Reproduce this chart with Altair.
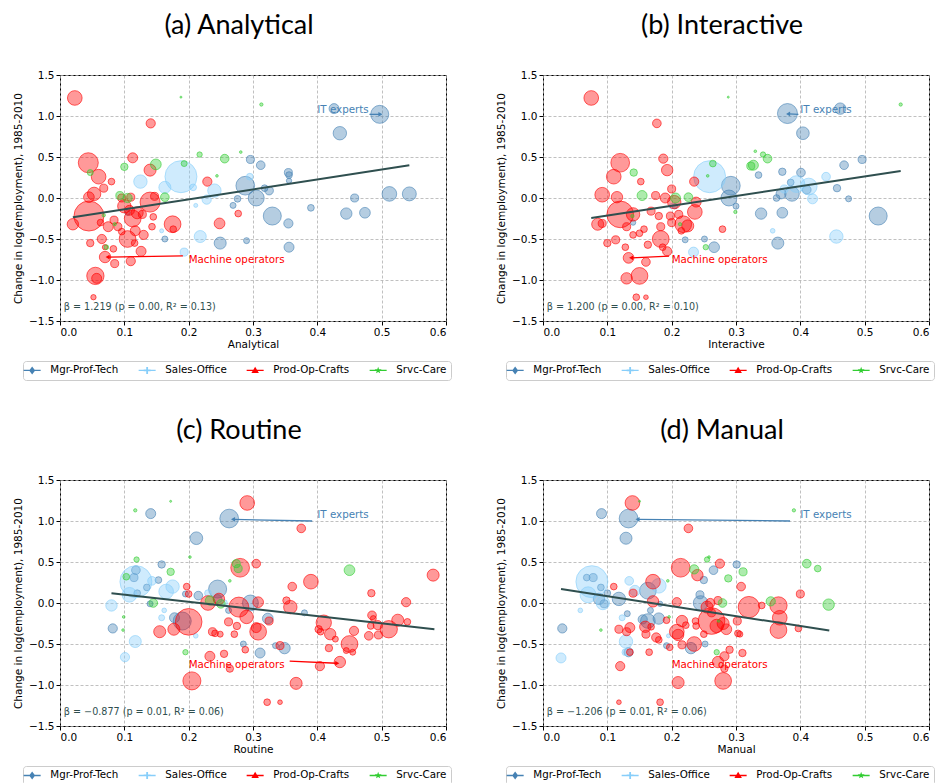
import math
import altair as alt
import pandas as pd

GROUPS = ["Mgr-Prof-Tech", "Sales-Office", "Prod-Op-Crafts", "Srvc-Care"]
COLORS = ["#4682b4", "#87cefa", "#ff0000", "#32cd32"]
FIT_COLOR = "#2f4f4f"
X_TICKS = [0.0, 0.1, 0.2, 0.3, 0.4, 0.5, 0.6]
Y_TICKS = [-1.5, -1.0, -0.5, 0.0, 0.5, 1.0, 1.5]
Y_TITLE = "Change in log(employment), 1985-2010"

# ---- (a) Analytical: (x, change in log employment, employment share %) ----
A_MGR = [(0.426, 1.09, 0.20), (0.497, 1.02, 0.65), (0.435, 0.79, 0.36), (0.296, 0.47, 0.13),
         (0.312, 0.40, 0.15), (0.355, 0.31, 0.13), (0.356, 0.28, 0.09), (0.356, 0.21, 0.057),
         (0.288, 0.15, 0.70), (0.305, 0.00, 0.51), (0.318, 0.12, 0.09), (0.325, 0.09, 0.15),
         (0.330, -0.22, 0.65), (0.276, -0.01, 0.09), (0.269, -0.09, 0.072), (0.355, -0.31, 0.17),
         (0.356, -0.60, 0.20), (0.249, -0.55, 0.29), (0.290, -0.52, 0.072), (0.163, -0.50, 0.072),
         (0.390, -0.12, 0.09), (0.445, -0.19, 0.26), (0.458, 0.00, 0.13), (0.474, -0.18, 0.23),
         (0.512, 0.05, 0.43), (0.543, 0.05, 0.39), (0.105, -0.18, 0.057)]
A_SALES = [(0.188, 0.26, 2.05), (0.125, 0.20, 0.36), (0.163, 0.13, 0.29), (0.240, 0.09, 0.36),
           (0.228, -0.02, 0.17), (0.218, -0.47, 0.29), (0.193, -0.66, 0.13), (0.211, -0.09, 0.032),
           (0.158, -0.40, 0.032), (0.207, 0.13, 0.09), (0.295, 0.26, 0.09)]
A_PROD = [(0.023, 1.22, 0.43), (0.141, 0.91, 0.17), (0.044, 0.43, 0.80), (0.060, 0.26, 0.43),
          (0.113, 0.49, 0.20), (0.140, 0.34, 0.29), (0.080, 0.20, 0.09), (0.068, 0.12, 0.13),
          (0.053, 0.05, 0.36), (0.045, 0.01, 0.23), (0.045, -0.22, 1.80), (0.020, -0.32, 0.26),
          (0.047, -0.55, 0.11), (0.065, -0.50, 0.17), (0.070, -0.72, 0.26), (0.085, -0.80, 0.13),
          (0.110, -0.77, 0.17), (0.126, -0.65, 0.20), (0.055, -0.95, 0.60), (0.057, -0.98, 0.20),
          (0.052, -1.21, 0.057), (0.105, -0.50, 0.56), (0.113, -0.25, 0.56), (0.117, -0.40, 0.20),
          (0.140, -0.05, 0.80), (0.147, 0.02, 0.13), (0.145, -0.23, 0.09), (0.143, -0.35, 0.09),
          (0.175, -0.32, 0.56), (0.176, -0.38, 0.09), (0.248, -0.31, 0.23), (0.229, 0.20, 0.17),
          (0.277, -0.19, 0.09), (0.090, -0.35, 0.13), (0.084, -0.27, 0.13), (0.096, -0.41, 0.09),
          (0.100, -0.10, 0.36), (0.075, -0.35, 0.20), (0.083, -0.62, 0.09), (0.096, 0.00, 0.13),
          (0.110, 0.01, 0.13), (0.120, -0.18, 0.29), (0.130, -0.45, 0.17), (0.063, -0.30, 0.09),
          (0.070, -0.60, 0.057), (0.108, -0.15, 0.20), (0.128, -0.20, 0.13), (0.116, -0.55, 0.09)]
A_SRVC = [(0.188, 1.23, 0.008), (0.313, 1.14, 0.022), (0.217, 0.53, 0.057), (0.281, 0.56, 0.014),
          (0.256, 0.48, 0.15), (0.193, 0.42, 0.072), (0.149, 0.41, 0.23), (0.100, 0.38, 0.11),
          (0.047, 0.31, 0.072), (0.244, 0.27, 0.014), (0.093, 0.03, 0.13), (0.105, 0.00, 0.17),
          (0.163, 0.01, 0.15), (0.068, -0.21, 0.022), (0.085, -0.32, 0.022), (0.072, -0.60, 0.044)]

# ---- (b) Interactive ----
B_MGR = [(0.380, 1.03, 0.80), (0.462, 1.09, 0.26), (0.404, 0.79, 0.32), (0.496, 0.47, 0.13),
         (0.468, 0.40, 0.15), (0.401, 0.31, 0.15), (0.372, 0.32, 0.11), (0.335, 0.28, 0.09),
         (0.292, 0.15, 0.70), (0.289, 0.00, 0.51), (0.300, -0.10, 0.072), (0.339, -0.19, 0.26),
         (0.372, -0.18, 0.23), (0.521, -0.22, 0.65), (0.365, -0.55, 0.29), (0.266, -0.60, 0.23),
         (0.251, -0.50, 0.072), (0.221, -0.51, 0.072), (0.457, 0.12, 0.11), (0.475, -0.01, 0.072),
         (0.387, 0.05, 0.43), (0.370, 0.05, 0.20), (0.385, 0.19, 0.09), (0.410, 0.10, 0.15),
         (0.363, 0.00, 0.09), (0.205, -0.10, 0.057), (0.140, -0.30, 0.057)]
B_SALES = [(0.259, 0.26, 2.05), (0.394, 0.17, 0.56), (0.413, 0.14, 0.56), (0.440, 0.26, 0.15),
           (0.419, -0.01, 0.20), (0.456, -0.47, 0.36), (0.234, -0.66, 0.20), (0.357, -0.40, 0.044),
           (0.375, 0.11, 0.13), (0.200, -0.10, 0.057)]
B_PROD = [(0.075, 1.22, 0.43), (0.177, 0.91, 0.15), (0.187, 0.48, 0.17), (0.193, 0.34, 0.26),
          (0.120, 0.43, 0.70), (0.110, 0.26, 0.43), (0.092, 0.04, 0.43), (0.115, 0.01, 0.26),
          (0.120, -0.20, 1.42), (0.085, -0.32, 0.29), (0.092, -0.31, 0.13), (0.100, -0.55, 0.11),
          (0.113, -0.51, 0.13), (0.128, -0.60, 0.09), (0.133, -0.73, 0.23), (0.130, -0.98, 0.26),
          (0.150, -0.95, 0.56), (0.145, -1.21, 0.09), (0.160, -1.21, 0.044), (0.160, -0.78, 0.15),
          (0.163, -0.57, 0.11), (0.152, 0.20, 0.09), (0.140, -0.20, 0.36), (0.150, -0.43, 0.09),
          (0.157, -0.38, 0.09), (0.168, -0.16, 0.13), (0.175, 0.03, 0.13), (0.180, -0.22, 0.11),
          (0.183, -0.35, 0.13), (0.183, -0.50, 0.56), (0.186, -0.60, 0.09), (0.193, -0.65, 0.17),
          (0.190, 0.00, 0.20), (0.198, -0.22, 0.13), (0.200, 0.11, 0.13), (0.204, -0.05, 0.36),
          (0.211, -0.20, 0.13), (0.218, -0.32, 0.56), (0.225, -0.34, 0.29), (0.236, -0.17, 0.43),
          (0.238, -0.05, 0.20), (0.235, 0.20, 0.17), (0.279, -0.38, 0.09), (0.200, -0.30, 0.13),
          (0.215, -0.40, 0.09), (0.130, -0.35, 0.13), (0.140, -0.45, 0.09)]
B_SRVC = [(0.288, 1.23, 0.008), (0.556, 1.14, 0.022), (0.141, 0.31, 0.11), (0.264, 0.42, 0.09),
          (0.256, 0.27, 0.014), (0.330, 0.57, 0.014), (0.342, 0.53, 0.057), (0.349, 0.48, 0.15),
          (0.323, 0.39, 0.13), (0.327, 0.40, 0.20), (0.154, 0.03, 0.20), (0.206, 0.00, 0.20),
          (0.226, 0.01, 0.15), (0.299, -0.17, 0.022), (0.253, -0.60, 0.057), (0.213, -0.32, 0.022),
          (0.139, -0.22, 0.022)]

# ---- (c) Routine ----
C_MGR = [(0.141, 1.09, 0.20), (0.263, 1.03, 0.70), (0.212, 0.79, 0.32), (0.158, 0.47, 0.11),
         (0.118, 0.40, 0.15), (0.115, 0.31, 0.13), (0.153, 0.28, 0.09), (0.135, 0.19, 0.09),
         (0.120, 0.12, 0.09), (0.245, 0.17, 0.65), (0.296, 0.00, 0.51), (0.245, 0.05, 0.15),
         (0.215, 0.09, 0.15), (0.195, 0.11, 0.072), (0.178, -0.18, 0.20), (0.190, -0.22, 0.65),
         (0.082, -0.31, 0.17), (0.323, -0.19, 0.23), (0.311, -0.61, 0.20), (0.349, -0.55, 0.26),
         (0.285, -0.50, 0.072), (0.335, -0.52, 0.072), (0.380, -0.12, 0.072), (0.140, -0.01, 0.072),
         (0.262, -0.09, 0.072)]
C_SALES = [(0.118, 0.26, 2.05), (0.175, 0.20, 0.36), (0.165, 0.14, 0.43), (0.108, 0.10, 0.43),
           (0.143, 0.27, 0.15), (0.080, -0.03, 0.26), (0.117, -0.47, 0.29), (0.101, -0.66, 0.17),
           (0.158, -0.18, 0.072), (0.162, -0.09, 0.044), (0.211, -0.40, 0.044), (0.230, 0.12, 0.09),
           (0.255, 0.00, 0.09)]
C_PROD = [(0.291, 1.22, 0.43), (0.375, 0.91, 0.15), (0.280, 0.43, 0.70), (0.305, 0.48, 0.15),
          (0.390, 0.26, 0.43), (0.361, 0.20, 0.15), (0.580, 0.34, 0.29), (0.484, 0.12, 0.11),
          (0.538, 0.01, 0.17), (0.197, 0.20, 0.09), (0.200, 0.11, 0.09), (0.200, -0.23, 1.42),
          (0.230, 0.00, 0.43), (0.247, 0.05, 0.26), (0.278, -0.05, 0.80), (0.290, -0.17, 0.36),
          (0.308, 0.01, 0.23), (0.308, -0.35, 0.56), (0.305, -0.30, 0.20), (0.325, -0.22, 0.13),
          (0.262, -0.23, 0.13), (0.275, -0.28, 0.11), (0.352, 0.03, 0.11), (0.358, -0.05, 0.36),
          (0.155, -0.35, 0.29), (0.177, -0.32, 0.29), (0.237, -0.35, 0.13), (0.241, -0.37, 0.09),
          (0.249, -0.38, 0.072), (0.271, -0.38, 0.09), (0.288, -0.57, 0.09), (0.233, -0.65, 0.20),
          (0.255, -0.62, 0.11), (0.264, -0.80, 0.11), (0.205, -0.95, 0.65), (0.367, -0.98, 0.29),
          (0.322, -1.21, 0.09), (0.342, -1.21, 0.044), (0.342, -0.52, 0.13), (0.402, -0.32, 0.11),
          (0.405, -0.35, 0.09), (0.410, -0.24, 0.47), (0.420, -0.38, 0.26), (0.418, -0.55, 0.11),
          (0.428, -0.44, 0.072), (0.435, -0.72, 0.26), (0.404, -0.77, 0.17), (0.450, -0.50, 0.56),
          (0.457, -0.34, 0.17), (0.445, -0.58, 0.072), (0.455, -0.60, 0.072), (0.480, -0.40, 0.15),
          (0.483, -0.28, 0.09), (0.485, -0.15, 0.15), (0.487, -0.19, 0.072), (0.495, -0.39, 0.13),
          (0.494, -0.27, 0.17), (0.511, -0.32, 0.60), (0.525, -0.21, 0.29), (0.540, -0.23, 0.09)]
C_SRVC = [(0.172, 1.24, 0.008), (0.117, 1.13, 0.022), (0.119, 0.53, 0.057), (0.172, 0.38, 0.11),
          (0.103, 0.32, 0.09), (0.145, 0.00, 0.15), (0.099, -0.17, 0.014), (0.098, -0.33, 0.014),
          (0.202, 0.56, 0.014), (0.264, 0.27, 0.014), (0.274, 0.48, 0.13), (0.277, 0.42, 0.13),
          (0.233, 0.03, 0.17), (0.250, -0.01, 0.15), (0.195, -0.60, 0.057), (0.450, 0.40, 0.23)]

# ---- (d) Manual ----
D_MGR = [(0.091, 1.09, 0.20), (0.133, 1.03, 0.70), (0.129, 0.79, 0.29), (0.301, 0.47, 0.11),
         (0.265, 0.40, 0.15), (0.250, 0.28, 0.11), (0.068, 0.31, 0.09), (0.078, 0.31, 0.13),
         (0.090, 0.19, 0.09), (0.100, 0.12, 0.09), (0.087, 0.05, 0.26), (0.118, 0.05, 0.36),
         (0.095, -0.01, 0.13), (0.163, 0.15, 0.56), (0.244, 0.10, 0.13), (0.245, 0.00, 0.43),
         (0.155, -0.20, 0.17), (0.163, -0.22, 0.43), (0.180, -0.19, 0.26), (0.131, -0.13, 0.072),
         (0.030, -0.31, 0.17), (0.133, -0.60, 0.17), (0.230, -0.55, 0.26), (0.192, -0.52, 0.072),
         (0.252, -0.50, 0.072), (0.167, -0.09, 0.072), (0.182, -0.01, 0.057)]
D_SALES = [(0.076, 0.26, 2.05), (0.070, 0.10, 0.51), (0.093, 0.00, 0.36), (0.180, 0.21, 0.43),
           (0.134, 0.27, 0.15), (0.143, 0.15, 0.23), (0.129, -0.47, 0.36), (0.028, -0.67, 0.20),
           (0.058, -0.09, 0.044), (0.123, -0.18, 0.072), (0.195, -0.40, 0.032), (0.128, -0.60, 0.09)]
D_PROD = [(0.139, 1.22, 0.43), (0.226, 0.91, 0.15), (0.214, 0.43, 0.70), (0.240, 0.34, 0.26),
          (0.275, 0.48, 0.17), (0.171, 0.26, 0.43), (0.110, 0.20, 0.09), (0.140, 0.12, 0.13),
          (0.171, 0.02, 0.26), (0.208, 0.01, 0.17), (0.308, 0.20, 0.15), (0.400, 0.11, 0.13),
          (0.320, -0.05, 0.91), (0.366, -0.03, 0.60), (0.368, -0.18, 0.43), (0.366, -0.33, 0.56),
          (0.340, -0.03, 0.09), (0.397, -0.31, 0.09), (0.262, -0.22, 1.42), (0.270, -0.28, 0.36),
          (0.280, -0.25, 0.29), (0.285, -0.32, 0.23), (0.255, -0.05, 0.29), (0.262, -0.12, 0.13),
          (0.272, 0.03, 0.13), (0.260, 0.00, 0.17), (0.302, -0.22, 0.13), (0.303, -0.37, 0.09),
          (0.306, -0.38, 0.072), (0.216, -0.22, 0.26), (0.208, -0.35, 0.43), (0.210, -0.39, 0.26),
          (0.222, -0.27, 0.09), (0.237, -0.22, 0.09), (0.235, -0.50, 0.43), (0.216, -0.51, 0.13),
          (0.197, -0.54, 0.09), (0.176, -0.42, 0.17), (0.180, -0.45, 0.09), (0.168, -0.29, 0.09),
          (0.159, -0.29, 0.26), (0.160, -0.38, 0.13), (0.135, -0.30, 0.20), (0.130, -0.35, 0.13),
          (0.118, -0.32, 0.13), (0.120, -0.77, 0.17), (0.135, -0.60, 0.09), (0.165, -0.60, 0.09),
          (0.192, -0.21, 0.09), (0.210, -0.97, 0.29), (0.280, -0.95, 0.56), (0.272, -0.72, 0.26),
          (0.282, -0.65, 0.17), (0.290, -0.57, 0.11), (0.310, -0.61, 0.11), (0.282, -0.80, 0.11),
          (0.118, -1.21, 0.044), (0.182, -1.21, 0.09), (0.250, -0.38, 0.09), (0.238, -0.28, 0.09)]
D_SRVC = [(0.150, 1.24, 0.008), (0.390, 1.13, 0.022), (0.235, 0.41, 0.17), (0.255, 0.53, 0.057),
          (0.258, 0.56, 0.014), (0.288, 0.30, 0.11), (0.311, 0.38, 0.13), (0.410, 0.48, 0.15),
          (0.427, 0.42, 0.09), (0.354, 0.02, 0.17), (0.444, -0.02, 0.26), (0.279, 0.00, 0.15),
          (0.194, 0.27, 0.014), (0.196, -0.17, 0.014), (0.090, -0.33, 0.014), (0.270, -0.60, 0.057),
          (0.273, -0.22, 0.014)]

# Weighted fit lines (endpoints) and statistics text
FIT_X = {"a": [0.020, 0.543], "b": [0.075, 0.556], "c": [0.080, 0.582], "d": [0.028, 0.445]}
FIT_Y = {"a": [-0.235, 0.400], "b": [-0.245, 0.330], "c": [0.120, -0.320], "d": [0.170, -0.335]}
STATS = {"a": "β = 1.219 (p = 0.00, R² = 0.13)",
         "b": "β = 1.200 (p = 0.00, R² = 0.10)",
         "c": "β =  −0.877 (p = 0.01, R² = 0.06)",
         "d": "β =  −1.206 (p = 0.01, R² = 0.06)"}

# Annotations: label anchor, arrow (from x, from y, to x, to y)
IT_LABEL = (0.400, 1.07)
MO_LABEL = (0.200, -0.75)
IT_ARROW = {"a": (0.481, 1.02, 0.497, 1.02), "b": (0.397, 1.02, 0.382, 1.025),
            "c": (0.392, 1.00, 0.270, 1.02), "d": (0.384, 1.00, 0.148, 1.02)}
MO_ARROW = {"a": (0.191, -0.705, 0.075, -0.72), "b": (0.196, -0.71, 0.138, -0.73),
            "c": (0.357, -0.71, 0.430, -0.735), "d": None}


def star_path(outer=0.72, inner=0.3):
    pts = []
    for i in range(10):
        r = outer if i % 2 == 0 else inner
        a = -math.pi / 2 + i * math.pi / 5
        pts.append(f"{r * math.cos(a):.3f},{r * math.sin(a):.3f}")
    return "M" + "L".join(pts) + "Z"


LINE = "M-1.7,-0.14L1.7,-0.14L1.7,0.14L-1.7,0.14Z"
SHAPES = [
    LINE + "M0,-0.8L0.6,0L0,0.8L-0.6,0Z",
    LINE + "M-0.18,-0.7L0.18,-0.7L0.18,-0.18L0.7,-0.18L0.7,0.18L0.18,0.18L0.18,0.7"
           "L-0.18,0.7L-0.18,0.18L-0.7,0.18L-0.7,-0.18L-0.18,-0.18Z",
    LINE + "M0,-0.75L0.75,0.5L-0.75,0.5Z",
    LINE + star_path(),
]


def build_df(lists):
    rows = []
    for g, pts in zip(GROUPS, lists):
        for x, y, e in pts:
            rows.append({"x": x, "y": y, "emp": e, "group": g})
    return pd.DataFrame(rows)


def text_layer(x, y, t, col, size):
    return alt.Chart(pd.DataFrame({"x": [x], "y": [y], "t": [t]})).mark_text(
        align="left", baseline="middle", fontSize=size, color=col, font="DejaVu Sans").encode(
        x="x:Q", y="y:Q", text="t:N")


def panel(key, title, xlabel, lists):
    df = build_df(lists)
    xs = alt.Scale(domain=[0, 0.6], nice=False, zero=False)
    ys = alt.Scale(domain=[-1.5, 1.5], nice=False, zero=False)
    cscale = alt.Scale(domain=GROUPS, range=COLORS)
    leg_opts = dict(orient="none", legendX=-37, legendY=286, direction="horizontal", columns=4,
                    title=None, strokeColor="#cccccc", fillColor="white", padding=4,
                    cornerRadius=3, labelFontSize=10.3, labelFont="DejaVu Sans",
                    symbolSize=100, labelOffset=13, columnPadding=19, symbolOpacity=1,
                    symbolStrokeWidth=0, labelColor="black")
    # legend-only layer (its marks are clipped away); listed first so its legend wins
    leg = alt.Chart(pd.DataFrame({"group": GROUPS})).mark_point(
        filled=True, opacity=1, clip=True).encode(
        x=alt.value(-300), y=alt.value(-300),
        color=alt.Color("group:N", scale=cscale, legend=alt.Legend(**leg_opts)),
        shape=alt.Shape("group:N", scale=alt.Scale(domain=GROUPS, range=SHAPES),
                        legend=alt.Legend(**leg_opts)),
    )
    pts = alt.Chart(df).mark_circle(opacity=1, fillOpacity=0.4, strokeOpacity=0.6, strokeWidth=1).encode(
        x=alt.X("x:Q", scale=xs, axis=alt.Axis(values=X_TICKS, format=".1f", title=xlabel)),
        y=alt.Y("y:Q", scale=ys, axis=alt.Axis(values=Y_TICKS, format=".1f", title=Y_TITLE)),
        color=alt.Color("group:N", scale=cscale),
        stroke=alt.Stroke("group:N", scale=cscale, legend=None),
        size=alt.Size("emp:Q", scale=alt.Scale(domain=[0, 5], range=[0, 2500]), legend=None),
    )
    fit = alt.Chart(pd.DataFrame({"x": FIT_X[key], "y": FIT_Y[key]})).mark_line(
        color=FIT_COLOR, strokeWidth=2).encode(x="x:Q", y="y:Q")
    stat = text_layer(0.006, -1.33, STATS[key], FIT_COLOR, 9.6)
    it_lab = text_layer(IT_LABEL[0], IT_LABEL[1], "IT experts", "#4682b4", 10.3)
    mo_lab = text_layer(MO_LABEL[0], MO_LABEL[1], "Machine operators", "#ff0000", 10.3)
    arrows = []
    for arr, col in [(IT_ARROW[key], "#4682b4"), (MO_ARROW[key], "#ff0000")]:
        if arr is None:
            continue
        x1, y1, x2, y2 = arr
        adf = pd.DataFrame({"x": [x1], "y": [y1], "x2": [x2], "y2": [y2],
                            "ang": [90 if x2 > x1 else 270]})
        arrows.append(alt.Chart(adf).mark_rule(color=col, strokeWidth=1.3).encode(
            x="x:Q", y="y:Q", x2="x2:Q", y2="y2:Q"))
        arrows.append(alt.Chart(adf).mark_point(shape="triangle", filled=True, size=22,
                                                opacity=1, color=col).encode(
            x="x2:Q", y="y2:Q", angle=alt.Angle("ang:Q", scale=None)))
    return alt.layer(leg, pts, fit, stat, it_lab, mo_lab, *arrows).properties(
        width=386, height=246,
        title=alt.TitleParams(title, fontSize=27, font="Lato", fontWeight="normal",
                              anchor="middle", baseline="alphabetic", offset=9, color="black",
                              dx=-14),
    )


pa = panel("a", "(a) Analytical", "Analytical", [A_MGR, A_SALES, A_PROD, A_SRVC])
pb = panel("b", "(b) Interactive", "Interactive", [B_MGR, B_SALES, B_PROD, B_SRVC])
pc = panel("c", "(c) Routine", "Routine", [C_MGR, C_SALES, C_PROD, C_SRVC])
pd_ = panel("d", "(d) Manual", "Manual", [D_MGR, D_SALES, D_PROD, D_SRVC])

res = dict(color="independent", shape="independent", stroke="independent")
chart = alt.concat(pa, pb, pc, pd_, columns=2, spacing={"row": 159, "column": 97},
                   bounds="flush").resolve_scale(**res).properties(
    padding={"left": 5, "top": 3, "right": 0, "bottom": 0}
).configure_view(stroke="black", strokeWidth=1).configure_axis(
    domain=False, tickColor="black", tickSize=4, labelFontSize=10.5, labelFont="DejaVu Sans",
    labelColor="black", titleFontSize=10.5, titleFont="DejaVu Sans", titleFontWeight="normal",
    titleColor="black", gridColor="#b0b0b0", gridDash=[3, 2], gridWidth=0.8, labelPadding=2,
).configure_axisY(titlePadding=5).configure_axisX(titlePadding=2)

chart.save("out.html", embed_options={"renderer": "svg", "actions": False})
